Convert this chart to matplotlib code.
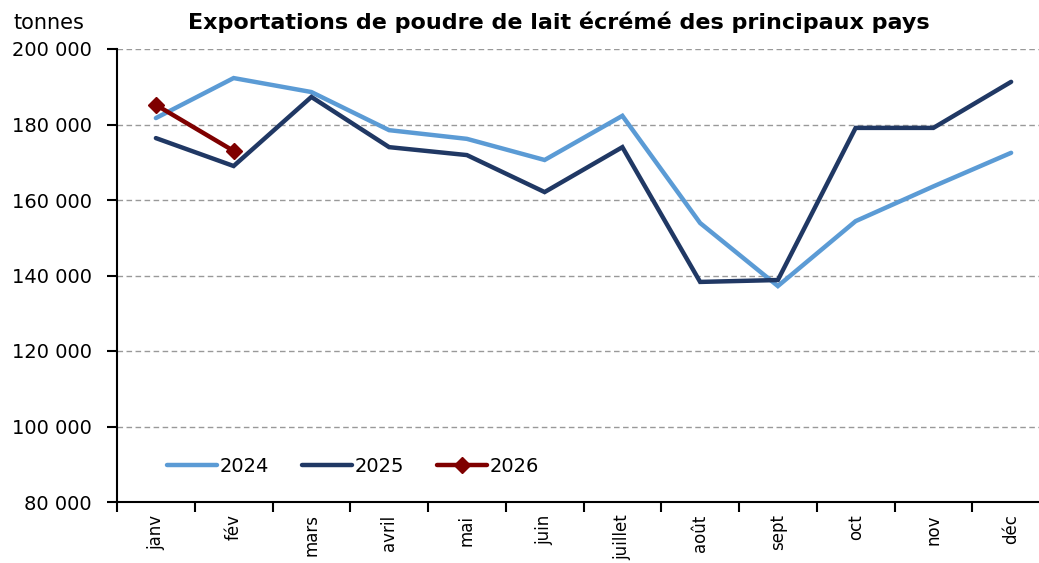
import matplotlib
matplotlib.use("Agg")
import matplotlib.pyplot as plt
from matplotlib.ticker import FuncFormatter

plt.rcParams['font.family'] = ['DejaVu Sans']

months = ["janv", "fév", "mars", "avril", "mai", "juin", "juillet", "août", "sept", "oct", "nov", "déc"]
s2024 = [181700, 192300, 188600, 178500, 176200, 170600, 182300, 153900, 137200, 154400, 163600, 172500]
s2025 = [176400, 169000, 187300, 174000, 171900, 162100, 174000, 138300, 138800, 179100, 179100, 191300]
s2026 = [185200, 173000]
yticks = [80000, 100000, 120000, 140000, 160000, 180000, 200000]

fig = plt.figure(figsize=(10.39, 5.63), dpi=100)
ax = fig.add_axes([117/1039, 1 - 502/563, (1050 - 117)/1039, (502 - 49)/563])

x = list(range(len(months)))
ax.plot(x, s2024, color="#5B9BD5", lw=3.2, label="2024", solid_capstyle="round", solid_joinstyle="miter")
ax.plot(x, s2025, color="#203864", lw=3.2, label="2025", solid_capstyle="round", solid_joinstyle="miter")
ax.plot(x[:len(s2026)], s2026, color="#7F0000", lw=3.2, marker="D", ms=8, label="2026", solid_capstyle="round")

ax.set_xlim(-0.5, len(months) - 0.5)
ax.set_ylim(80000, 200000)
ax.set_yticks(yticks)
ax.yaxis.set_major_formatter(FuncFormatter(lambda v, p: f"{int(v):,}".replace(",", " ")))
ax.set_xticks([i - 0.5 for i in range(len(months) + 1)])
ax.set_xticklabels([])
ax.set_xticks(x, minor=True)
ax.set_xticklabels(months, minor=True, rotation=90, fontsize=12)
ax.tick_params(axis="x", which="minor", length=0, pad=9)
ax.tick_params(axis="x", which="major", length=7, width=1.5, direction="out")
ax.tick_params(axis="y", length=7, width=1.5, direction="out", labelsize=14, pad=11)

for s in ["top", "right"]:
    ax.spines[s].set_visible(False)
for s in ["left", "bottom"]:
    ax.spines[s].set_linewidth(1.5)

for v in yticks[1:]:
    ax.axhline(v, color="#999999", lw=1, ls=(0, (4, 2.5)), zorder=0)

leg = ax.legend(loc="lower left", bbox_to_anchor=(0.045, 0.04), ncol=3, frameon=False,
                fontsize=14, handlelength=2.6, columnspacing=1.7, handletextpad=0.1,
                borderaxespad=0)

fig.text(559/1039, 1 - 22/563, "Exportations de poudre de lait écrémé des principaux pays",
         ha="center", va="center", fontsize=16, fontweight="bold")
fig.text(49/1039, 1 - 23/563, "tonnes", ha="center", va="center", fontsize=15)

fig.savefig("out.png", dpi=100)
